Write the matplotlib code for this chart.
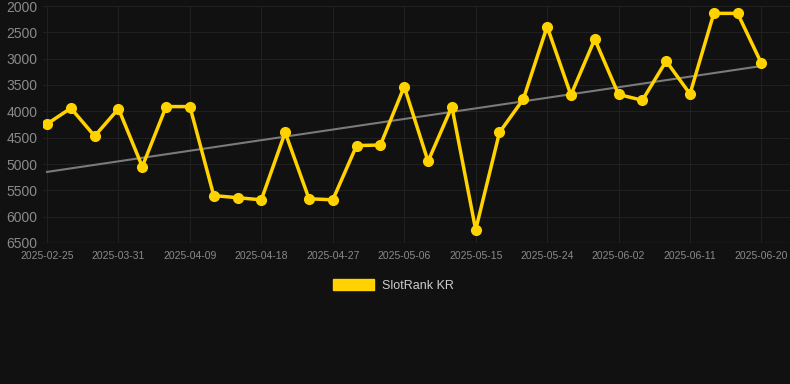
import numpy as np
import matplotlib
matplotlib.use('Agg')
import matplotlib.pyplot as plt

plt.rcParams['font.family'] = ['Liberation Sans', 'DejaVu Sans']

dates = ['2025-02-25', '2025-03-25', '2025-03-28', '2025-03-31', '2025-04-03',
         '2025-04-06', '2025-04-09', '2025-04-12', '2025-04-15', '2025-04-18',
         '2025-04-21', '2025-04-24', '2025-04-27', '2025-04-30', '2025-05-03',
         '2025-05-06', '2025-05-09', '2025-05-12', '2025-05-15', '2025-05-18',
         '2025-05-21', '2025-05-24', '2025-05-27', '2025-05-30', '2025-06-02',
         '2025-06-05', '2025-06-08', '2025-06-11', '2025-06-14', '2025-06-17',
         '2025-06-20']
rank = [4240, 3940, 4470, 3950, 5050, 3910, 3910, 5600, 5640, 5680,
        4400, 5660, 5680, 4650, 4640, 3530, 4950, 3910, 6250, 4400,
        3770, 2390, 3690, 2630, 3680, 3790, 3045, 3670, 2140, 2140,
        3090]
series_name = 'SlotRank KR'

bg = '#111111'
grid_c = '#202020'
tick_c = '#8a8a8a'
gold = '#FFD200'

x = np.arange(len(rank))
coef = np.polyfit(x, rank, 1)
trend = np.polyval(coef, x)

fig = plt.figure(figsize=(7.9, 3.84), dpi=100, facecolor=bg)
ax = fig.add_axes([43 / 790, 1 - 243 / 384, (790 - 43) / 790, (243 - 6) / 384])
ax.set_facecolor(bg)

ax.plot(x, trend, color='#7a7a7a', lw=1.5, zorder=2)
ax.plot(x, rank, color=gold, lw=2.5, marker='o', ms=7, zorder=3)

ax.set_ylim(6500, 2000)
ax.set_yticks(np.arange(2000, 6501, 500))
ax.set_xlim(-0.17, 31.2)
ax.set_xticks(x[::3])
ax.set_xticklabels(dates[::3])

ax.grid(True, color=grid_c, lw=0.8)
for s in ax.spines.values():
    s.set_visible(False)
ax.axhline(6500, color='#2a2a2a', lw=1, zorder=1)
ax.tick_params(axis='y', colors=tick_c, labelsize=10, length=0, pad=4)
ax.tick_params(axis='x', colors=tick_c, labelsize=7.5, length=0, pad=6)

leg = ax.legend([plt.Rectangle((0, 0), 1, 1, color=gold)], [series_name],
                loc='upper center', bbox_to_anchor=(0.5 - 23 / 747, -0.105),
                frameon=False, handlelength=3.3, handleheight=0.9,
                handletextpad=0.6, fontsize=9, labelcolor='#cccccc')

fig.savefig('out.png', dpi=100, facecolor=bg)
